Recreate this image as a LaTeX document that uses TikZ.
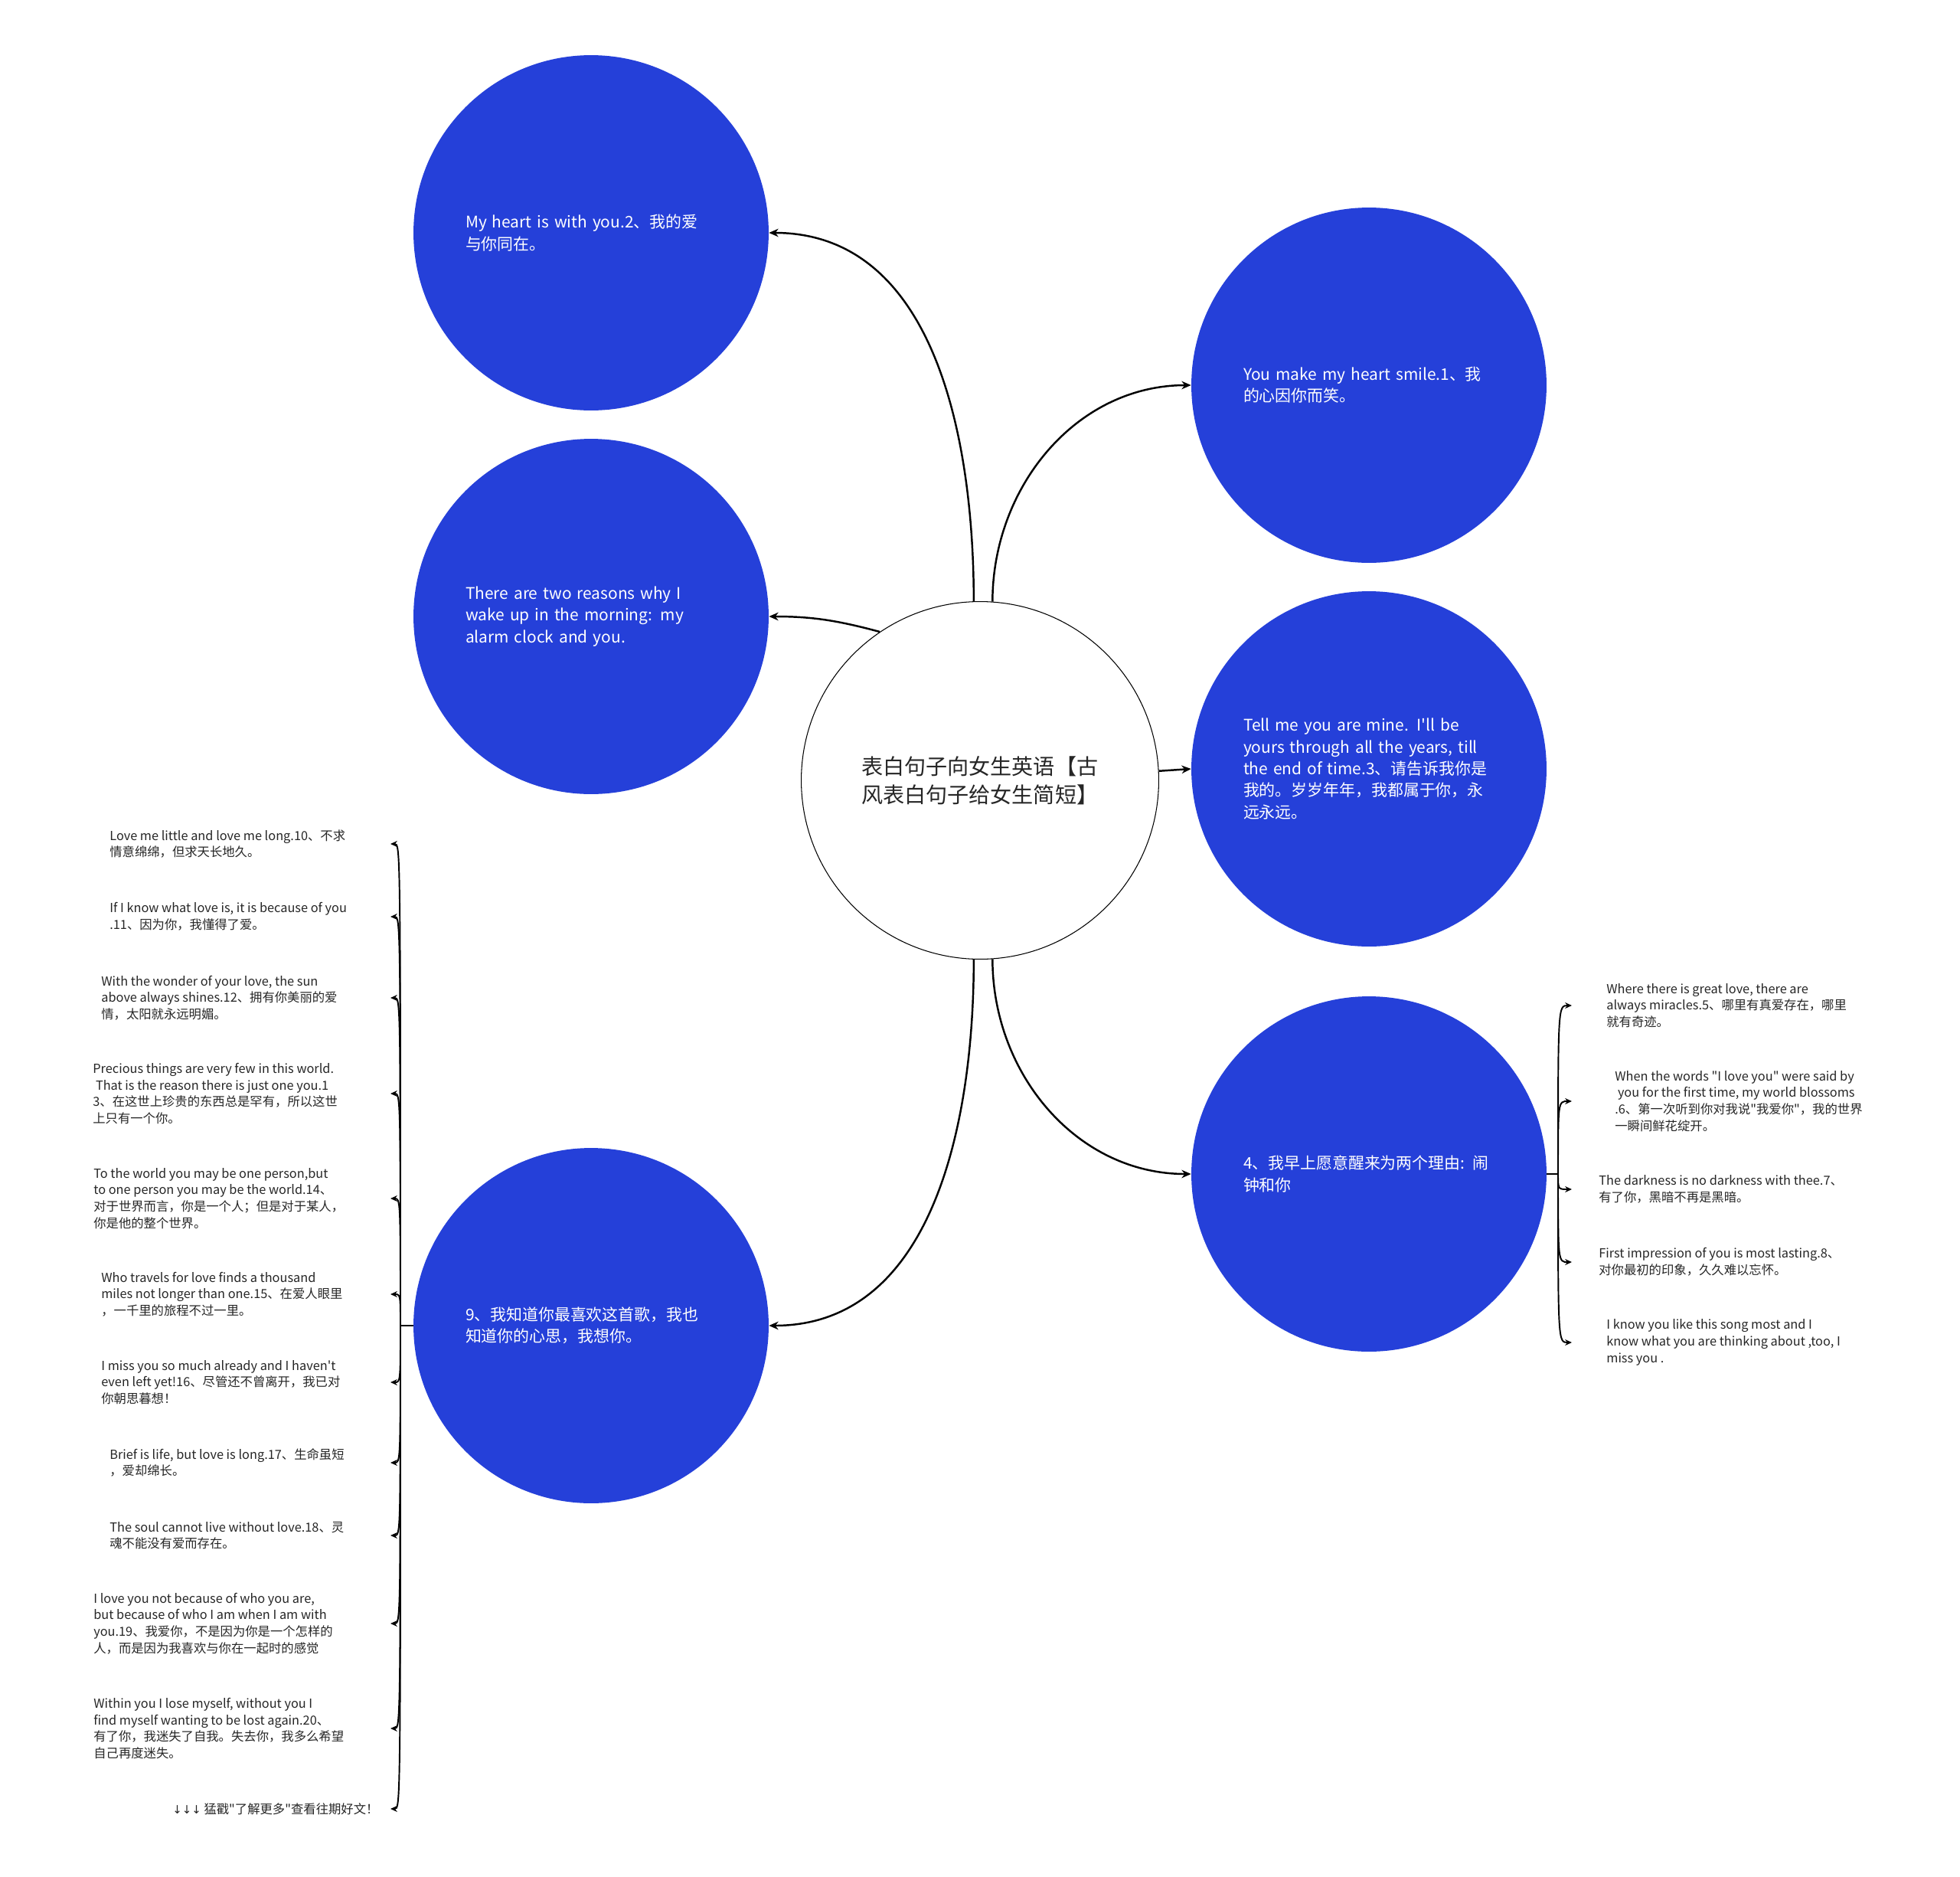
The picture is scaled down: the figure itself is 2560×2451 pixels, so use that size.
\documentclass[tikz,border=0pt]{standalone}
\usepackage{fontspec}
\newfontfamily\cjk{Noto Sans CJK SC}
\newfontfamily\arrowfont{DejaVu Sans}
\usetikzlibrary{arrows.meta, positioning, calc}
\definecolor{leafblue}{HTML}{2540D9}

\begin{document}
\begin{tikzpicture}[
    x=0.02cm, y=-0.02cm,
    hubnode/.style={circle, draw=black, line width=0.6pt, fill=white, minimum size=9.34cm, inner sep=0pt, text width=6.2cm, align=left, text=black!85, font=\cjk\fontsize{16}{20.9}\selectfont},
    leaf/.style={circle, fill=leafblue, minimum size=9.28cm, inner sep=0pt, text width=6.56cm, align=left, text=white, font=\cjk\fontsize{11.9}{16.1}\selectfont},
    note/.style={anchor=west, align=left, inner sep=0pt, text=black!85, font=\cjk\fontsize{9.3}{12.35}\selectfont},
    link/.style={-{Stealth[length=7pt, width=6pt]}, line width=1.4pt},
    brk/.style={-{Stealth[length=5pt, width=4.5pt]}, line width=1.1pt},
]
\useasboundingbox (0,0) rectangle (2560,2451);

% centre and main branches
\node[hubnode] (hub) at (1280,1019) {表白句子向女生英语【古\\风表白句子给女生简短】};
\node[leaf] (a) at (772,304) {My heart is with you.2、我的爱\\与你同在。};
\node[leaf] (b) at (772,805) {There are two reasons why I\\wake up in the morning: my\\alarm clock and you.};
\node[leaf] (c) at (1788,503) {You make my heart smile.1、我\\的心因你而笑。};
\node[leaf] (d) at (1788,1004) {Tell me you are mine. I'll be\\yours through all the years, till\\the end of time.3、请告诉我你是\\我的。岁岁年年，我都属于你，永\\远永远。};
\node[leaf] (e) at (1788,1533) {4、我早上愿意醒来为两个理由: 闹\\钟和你};
\node[leaf] (f) at (772,1731) {9、我知道你最喜欢这首歌，我也\\知道你的心思，我想你。};

\draw[link] (hub.92) to[out=90, in=0] (a.east);
\draw[link] (hub.124) to[out=165, in=0] (b.east);
\draw[link] (hub.86) to[out=90, in=180] (c.west);
\draw[link] (hub.3.7) -- (d.west);
\draw[link] (hub.274) to[out=-90, in=180] (e.west);
\draw[link] (hub.268) to[out=-90, in=0] (f.east);

% left list
\node[note] (l1) at (143,1102) {Love me little and love me long.10、不求\\情意绵绵，但求天长地久。};
\node[note] (l2) at (143,1197) {If I know what love is, it is because of you\\.11、因为你，我懂得了爱。};
\node[note] (l3) at (132,1303) {With the wonder of your love, the sun\\above always shines.12、拥有你美丽的爱\\情，太阳就永远明媚。};
\node[note] (l4) at (121,1428) {Precious things are very few in this world.\\~That is the reason there is just one you.1\\3、在这世上珍贵的东西总是罕有，所以这世\\上只有一个你。};
\node[note] (l5) at (122,1565) {To the world you may be one person,but\\to one person you may be the world.14、\\对于世界而言，你是一个人；但是对于某人，\\你是他的整个世界。};
\node[note] (l6) at (132,1690) {Who travels for love finds a thousand\\miles not longer than one.15、在爱人眼里\\，一千里的旅程不过一里。};
\node[note] (l7) at (132,1805) {I miss you so much already and I haven't\\even left yet!16、尽管还不曾离开，我已对\\你朝思暮想！};
\node[note] (l8) at (143,1910) {Brief is life, but love is long.17、生命虽短\\，爱却绵长。};
\node[note] (l9) at (143,2005) {The soul cannot live without love.18、灵\\魂不能没有爱而存在。};
\node[note] (l10) at (122,2120) {I love you not because of who you are,\\but because of who I am when I am with\\you.19、我爱你，不是因为你是一个怎样的\\人，而是因为我喜欢与你在一起时的感觉};
\node[note] (l11) at (122,2257) {Within you I lose myself, without you I\\find myself wanting to be lost again.20、\\有了你，我迷失了自我。失去你，我多么希望\\自己再度迷失。};
\node[note] (l12) at (225,2362) {{\arrowfont\fontsize{8.5}{12.35}\selectfont ↓↓↓} 猛戳"了解更多"查看往期好文！};

\coordinate (lj) at (523,1731);
\draw[line width=1.1pt] (f.west) -- (lj);
\foreach \y [count=\i] in {1102,1197,1303,1428,1565,1690,1805,1910,2005,2120,2257,2362} {
  \coordinate (lt\i) at (510,\y);
  \draw[brk] (lj) .. controls (523,\y) and (523,\y) .. (lt\i);
}

% right list
\node[note] (r1) at (2098,1313) {Where there is great love, there are\\always miracles.5、哪里有真爱存在，哪里\\就有奇迹。};
\node[note] (r2) at (2109,1438) {When the words "I love you" were said by\\~you for the first time, my world blossoms\\.6、第一次听到你对我说"我爱你"，我的世界\\一瞬间鲜花绽开。};
\node[note] (r3) at (2088,1553) {The darkness is no darkness with thee.7、\\有了你，黑暗不再是黑暗。};
\node[note] (r4) at (2088,1648) {First impression of you is most lasting.8、\\对你最初的印象，久久难以忘怀。};
\node[note] (r5) at (2098,1753) {I know you like this song most and I\\know what you are thinking about ,too, I\\miss you .};

\coordinate (rj) at (2035,1533);
\draw[line width=1.1pt] (e.east) -- (rj);
\foreach \y [count=\i] in {1313,1438,1553,1648,1753} {
  \coordinate (rt\i) at (2053,\y);
  \draw[brk] (rj) .. controls (2035,\y) and (2035,\y) .. (rt\i);
}
\end{tikzpicture}
\end{document}
